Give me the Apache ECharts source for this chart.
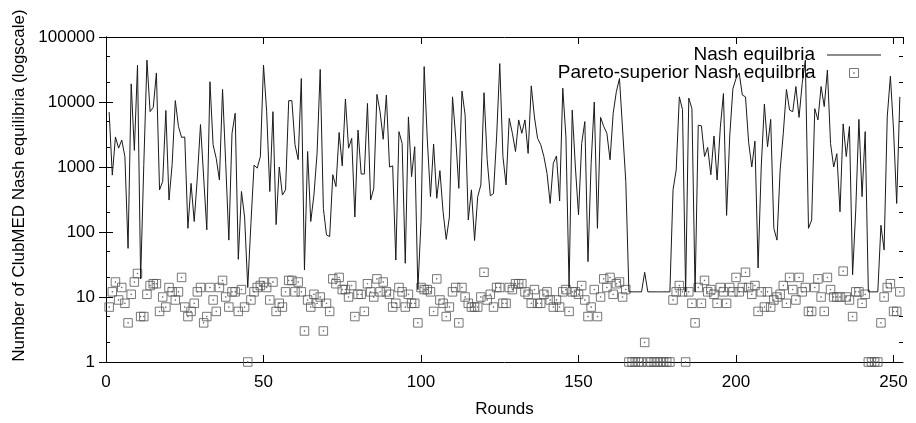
<!DOCTYPE html>
<html>
<head>
<meta charset="utf-8">
<script src="https://cdn.jsdelivr.net/npm/echarts@6/dist/echarts.min.js"></script>
<style>
  html, body { margin: 0; padding: 0; background: #fff; }
  #chart { width: 916px; height: 423px; }
</style>
</head>
<body>
<div id="chart"></div>
<script>
// rounds start at 1, one value per round
const firstRound = 1;

const nashEquilibria = [
  7000, 750, 2900, 1950, 2600, 1450, 56, 19000, 1800, 37000,
  19, 1100, 44000, 7100, 8300, 28000, 445, 600, 7400, 310,
  1100, 10500, 4200, 2850, 2900, 114, 560, 145, 700, 4500,
  700, 108, 20500, 2200, 1350, 630, 15600, 1140, 75, 3300,
  6700, 38, 420, 170, 14, 135, 1070, 960, 1450, 37000,
  7100, 420, 7100, 130, 1000, 370, 445, 10500, 10500, 2200,
  1300, 23000, 26, 1730, 145, 370, 1620, 31700, 230, 90,
  85, 760, 500, 3400, 1040, 11100, 1950, 2760, 170, 3700,
  780, 780, 9500, 310, 470, 13100, 7100, 2670, 12800, 1000,
  1040, 37, 3500, 2300, 33, 5900, 710, 2050, 13, 145,
  35000, 2600, 350, 2250, 330, 880, 205, 77, 170, 12000,
  2900, 470, 14700, 6300, 153, 445, 74, 350, 530, 13900,
  1290, 360, 390, 2900, 39000, 1450, 530, 5600, 3300, 1730,
  5300, 3300, 5300, 1620, 17700, 5900, 2760, 2200, 1450, 800,
  275, 1140, 1480, 300, 16300, 2900, 14, 7500, 1000, 183,
  2300, 5000, 35, 1140, 10000, 114, 5800, 4200, 3300, 1290,
  6700, 14400, 23000, 3700, 600, 12, 12, 12, 12, 12,
  24, 12, 12, 12, 12, 12, 12, 12, 12, 445,
  900, 12000, 7700, 12, 11500, 7900, 12, 4400, 4300, 1450,
  2000, 760, 3000, 630, 4000, 13500, 180, 3000, 16000, 23000,
  28000, 12800, 12000, 2400, 1000, 2500, 28, 1000, 9300, 2050,
  5400, 114, 75, 900, 3300, 15600, 7500, 7100, 17300, 5800,
  19300, 44000, 114, 153, 7900, 5300, 17300, 8500, 31000, 2300,
  1000, 1600, 205, 4600, 1450, 4200, 22, 217, 5400, 350,
  3500, 12, 12, 12, 12, 127, 53, 5900, 25000, 3700,
  275, 12000
];

const paretoEquilibria = [
  7, 12, 17, 9, 14, 8, 4, 11, 17, 23,
  5, 5, 11, 15, 16, 16, 6, 10, 7, 14,
  12, 9, 12, 20, 7, 5, 6, 8, 12, 14,
  4, 5, 14, 9, 6, 14, 18, 10, 7, 12,
  12, 6, 13, 7, 1, 9, 12, 14, 15, 17,
  14, 9, 17, 6, 8, 7, 12, 18, 18, 12,
  17, 12, 3, 9, 7, 11, 8, 10, 3, 8,
  6, 19, 16, 20, 13, 13, 10, 15, 5, 11,
  11, 6, 16, 12, 10, 19, 12, 17, 12, 11,
  7, 8, 14, 12, 7, 11, 8, 8, 4, 14,
  13, 13, 12, 6, 19, 9, 8, 5, 7, 12,
  14, 4, 14, 10, 8, 7, 7, 7, 10, 24,
  9, 11, 7, 14, 14, 8, 8, 14, 13, 16,
  16, 16, 12, 11, 8, 13, 8, 8, 11, 12,
  9, 7, 9, 7, 12, 13, 6, 12, 12, 11,
  15, 9, 5, 7, 13, 5, 10, 19, 14, 20,
  11, 16, 17, 10, 13, 1, 1, 1, 1, 1,
  2, 1, 1, 1, 1, 1, 1, 1, 1, 9,
  12, 15, 12, 1, 12, 8, 4, 14, 8, 18,
  12, 13, 11, 8, 14, 12, 8, 14, 12, 20,
  12, 14, 24, 14, 11, 15, 6, 12, 7, 12,
  7, 9, 10, 11, 15, 8, 20, 13, 9, 20,
  12, 14, 6, 6, 14, 19, 10, 6, 20, 13,
  10, 10, 10, 25, 10, 9, 5, 12, 12, 8,
  11, 1, 1, 1, 1, 4, 10, 14, 16, 6,
  6, 12
];

const seriesNames = ["Nash equilbria", "Pareto-superior Nash equilbria"];
const xRange = [0, 253];
const xStep = 50;
const yRange = [1, 100000];
const yMinorTicks = [2, 5, 20, 50, 200, 500, 2000, 5000, 20000, 50000];

const font = "'Liberation Sans', Arial, Helvetica, sans-serif";
const squareSymbol = "path://M0,0H10V10H0Z M4.6,4.6H5.4V5.4H4.6Z";

const chart = echarts.init(document.getElementById("chart"), null, { renderer: "canvas" });

const xAxisBase = {
  type: "value",
  min: xRange[0],
  max: xRange[1],
  interval: xStep,
  splitLine: { show: false },
  axisLine: { show: true, onZero: false, lineStyle: { color: "#000", width: 1 } },
  axisTick: { show: true, inside: true, length: 7, lineStyle: { color: "#000" } }
};

const yAxisBase = {
  type: "log",
  logBase: 10,
  min: yRange[0],
  max: yRange[1],
  splitLine: { show: false },
  axisLine: { show: true, lineStyle: { color: "#000", width: 1 } },
  axisTick: { show: true, inside: true, length: 7, lineStyle: { color: "#000" } },
  minorTick: { show: false }
};

// extra axes that only draw the short ticks at 2 and 5 of every decade
const yMinorAxis = (side) => Object.assign({}, yAxisBase, {
  position: side,
  axisLine: { show: false },
  axisLabel: { show: false },
  axisTick: { show: true, inside: true, length: 4, customValues: yMinorTicks, lineStyle: { color: "#000" } }
});

const option = {
  animation: false,
  backgroundColor: "#ffffff",
  textStyle: { fontFamily: font },
  grid: { left: 106, right: 13, top: 37, bottom: 61 },
  legend: [
    {
      data: [seriesNames[0]],
      orient: "vertical",
      align: "right",
      right: 35,
      top: 45,
      padding: 0,
      icon: "rect",
      itemWidth: 54,
      itemHeight: 1,
      textStyle: { fontFamily: font, fontSize: 19, color: "#000", lineHeight: 20, padding: [0, 7, 0, 0] }
    },
    {
      data: [seriesNames[1]],
      orient: "vertical",
      align: "right",
      right: 57,
      top: 63,
      padding: 0,
      itemWidth: 9,
      itemHeight: 9,
      itemStyle: { color: "transparent", borderColor: "#555", borderWidth: 1 },
      textStyle: { fontFamily: font, fontSize: 19, color: "#000", lineHeight: 20, padding: [0, 29, 0, 0] }
    }
  ],
  xAxis: [
    Object.assign({}, xAxisBase, {
      position: "bottom",
      name: "Rounds",
      nameLocation: "middle",
      nameGap: 39,
      nameTextStyle: { fontFamily: font, fontSize: 17, color: "#000" },
      axisLabel: { show: true, margin: 12, fontSize: 17, color: "#000", fontFamily: font, showMaxLabel: false }
    }),
    Object.assign({}, xAxisBase, {
      position: "top",
      axisLabel: { show: false }
    })
  ],
  yAxis: [
    Object.assign({}, yAxisBase, {
      position: "left",
      name: "Number of ClubMED Nash equilibria (logscale)",
      nameLocation: "middle",
      nameRotate: 90,
      nameGap: 78,
      nameTextStyle: { fontFamily: font, fontSize: 17, color: "#000", padding: [0, 0, 0, 28] },
      axisLabel: {
        show: true, margin: 11, fontSize: 17, color: "#000", fontFamily: font,
        formatter: (v) => String(Math.round(v))
      }
    }),
    Object.assign({}, yAxisBase, {
      position: "right",
      axisLabel: { show: false }
    }),
    yMinorAxis("left"),
    yMinorAxis("right")
  ],
  series: [
    {
      name: seriesNames[0],
      type: "line",
      xAxisIndex: 0,
      yAxisIndex: 0,
      symbol: "none",
      lineStyle: { color: "#1a1a1a", width: 1 },
      itemStyle: { color: "#1a1a1a" },
      data: nashEquilibria.map((v, i) => [firstRound + i, v])
    },
    {
      name: seriesNames[1],
      type: "scatter",
      xAxisIndex: 0,
      yAxisIndex: 0,
      symbol: squareSymbol,
      symbolSize: 8.5,
      itemStyle: { color: "transparent", borderColor: "#555", borderWidth: 1 },
      data: paretoEquilibria.map((v, i) => [firstRound + i, v])
    }
  ]
};

chart.setOption(option);
</script>
</body>
</html>
